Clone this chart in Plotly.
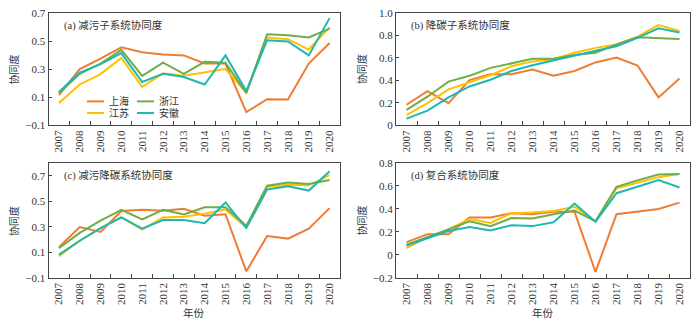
import plotly.graph_objects as go

years = ["2007", "2008", "2009", "2010", "2011", "2012", "2013",
         "2014", "2015", "2016", "2017", "2018", "2019", "2020"]
provinces = ["上海", "江苏", "浙江", "安徽"]
colors = ["#EE7D31", "#FFC000", "#70AD47", "#1FB7B2"]

# (a) 减污子系统协同度
sh_a = [0.113, 0.300, 0.375, 0.456, 0.420, 0.405, 0.398, 0.340, 0.340, -0.008, 0.085, 0.082, 0.340, 0.487]
js_a = [0.057, 0.190, 0.264, 0.380, 0.173, 0.270, 0.252, 0.278, 0.300, 0.130, 0.526, 0.514, 0.440, 0.600]
zj_a = [0.127, 0.266, 0.340, 0.438, 0.252, 0.347, 0.266, 0.352, 0.345, 0.130, 0.550, 0.542, 0.526, 0.590]
ah_a = [0.136, 0.275, 0.335, 0.415, 0.208, 0.266, 0.243, 0.190, 0.398, 0.143, 0.507, 0.498, 0.398, 0.665]

# (b) 降碳子系统协同度
sh_b = [0.181, 0.302, 0.195, 0.402, 0.454, 0.454, 0.497, 0.440, 0.483, 0.560, 0.603, 0.532, 0.247, 0.417]
js_b = [0.089, 0.195, 0.319, 0.382, 0.445, 0.526, 0.569, 0.589, 0.647, 0.690, 0.720, 0.790, 0.894, 0.842]
zj_b = [0.135, 0.253, 0.388, 0.440, 0.511, 0.549, 0.592, 0.592, 0.626, 0.647, 0.720, 0.784, 0.776, 0.770]
ah_b = [0.057, 0.129, 0.247, 0.345, 0.405, 0.483, 0.534, 0.578, 0.626, 0.664, 0.704, 0.779, 0.865, 0.828]

# (c) 减污降碳系统协同度
sh_c = [0.139, 0.297, 0.260, 0.423, 0.433, 0.426, 0.441, 0.386, 0.398, -0.050, 0.227, 0.207, 0.285, 0.446]
js_c = [0.069, 0.190, 0.290, 0.373, 0.277, 0.373, 0.378, 0.403, 0.436, 0.295, 0.612, 0.630, 0.625, 0.705]
zj_c = [0.131, 0.252, 0.348, 0.433, 0.358, 0.433, 0.396, 0.453, 0.453, 0.307, 0.622, 0.647, 0.635, 0.667]
ah_c = [0.081, 0.190, 0.290, 0.373, 0.285, 0.353, 0.353, 0.328, 0.491, 0.290, 0.592, 0.617, 0.584, 0.735]

# (d) 复合系统协同度
sh_d = [0.110, 0.180, 0.180, 0.326, 0.326, 0.362, 0.354, 0.376, 0.376, -0.149, 0.354, 0.376, 0.400, 0.455]
js_d = [0.059, 0.152, 0.222, 0.312, 0.278, 0.362, 0.368, 0.382, 0.419, 0.292, 0.581, 0.629, 0.677, 0.705]
zj_d = [0.087, 0.152, 0.222, 0.292, 0.250, 0.320, 0.317, 0.354, 0.385, 0.292, 0.593, 0.649, 0.700, 0.705]
ah_d = [0.081, 0.146, 0.208, 0.242, 0.213, 0.258, 0.250, 0.284, 0.447, 0.287, 0.537, 0.593, 0.652, 0.587]

panel_titles = ["(a) 减污子系统协同度", "(b) 降碳子系统协同度",
                "(c) 减污降碳系统协同度", "(d) 复合系统协同度"]
y_ticks = [
    ([-0.1, 0.1, 0.3, 0.5, 0.7], ["−0.1", "0.1", "0.3", "0.5", "0.7"], [-0.1, 0.7]),
    ([0, 0.2, 0.4, 0.6, 0.8, 1.0], ["0", "0.2", "0.4", "0.6", "0.8", "1.0"], [0, 1.0]),
    ([-0.1, 0.1, 0.3, 0.5, 0.7], ["−0.1", "0.1", "0.3", "0.5", "0.7"], [-0.1, 0.8]),
    ([-0.2, 0, 0.2, 0.4, 0.6, 0.8], ["−0.2", "0", "0.2", "0.4", "0.6", "0.8"], [-0.2, 0.8]),
]
panels = [[sh_a, js_a, zj_a, ah_a], [sh_b, js_b, zj_b, ah_b],
          [sh_c, js_c, zj_c, ah_c], [sh_d, js_d, zj_d, ah_d]]

W, H = 700, 329
def px(x):
    return x / W
def py(y):
    return 1 - y / H

# pixel boxes of the four plot areas: (left, right, top, bottom)
boxes = [(48.5, 340, 7.5, 123.5), (396, 690, 7.5, 123.5),
         (48.5, 340, 163, 282), (396, 690, 163, 282)]

SERIF = "Liberation Serif"
CJK = "Liberation Serif, Noto Sans CJK SC, serif"
TXT = "#333"

fig = go.Figure()
layout = dict(width=W, height=H, margin=dict(l=0, r=0, t=0, b=0),
              paper_bgcolor="white", plot_bgcolor="white", showlegend=False,
              font=dict(family=SERIF, size=11, color=TXT))
annotations = []
shapes = []

for i, series in enumerate(panels):
    n = "" if i == 0 else str(i + 1)
    xa, ya = "x" + n, "y" + n
    for name, vals, col in zip(provinces, series, colors):
        fig.add_trace(go.Scatter(x=years, y=vals, mode="lines", name=name,
                                 line=dict(color=col, width=2),
                                 xaxis=xa, yaxis=ya, showlegend=False))
    l, r, t, b = boxes[i]
    tv, tt, rng = y_ticks[i]
    layout["xaxis" + n] = dict(domain=[px(l), px(r)], anchor=ya, type="category",
                               range=[-0.5, 13.5], tickson="boundaries",
                               ticks="inside", ticklen=4, tickcolor="#444",
                               tickangle=-90, showline=True, linecolor="#444",
                               linewidth=1, mirror=True, showgrid=False,
                               zeroline=False,
                               tickfont=dict(family=SERIF, size=11, color=TXT))
    layout["yaxis" + n] = dict(domain=[py(b), py(t)], anchor=xa, range=rng,
                               tickvals=tv, ticktext=tt, ticks="inside",
                               ticklen=3, tickcolor="#444", showline=True,
                               linecolor="#444", linewidth=1, mirror=True,
                               showgrid=False, zeroline=False,
                               tickfont=dict(family=SERIF, size=11, color=TXT))
    # panel title
    annotations.append(dict(text=panel_titles[i], x=px(l + 13), y=py(t + 12.5),
                            xref="paper", yref="paper", xanchor="left",
                            yanchor="middle", showarrow=False,
                            font=dict(family=CJK, size=10.5, color=TXT)))
    # y axis title
    annotations.append(dict(text="协同度", x=px(l - 34), y=py((t + b) / 2),
                            xref="paper", yref="paper", textangle=-90,
                            xanchor="center", yanchor="middle", showarrow=False,
                            font=dict(family=CJK, size=10, color=TXT)))
    if i >= 2:
        annotations.append(dict(text="年份", x=px((l + r) / 2), y=py(319),
                                xref="paper", yref="paper", xanchor="center",
                                yanchor="middle", showarrow=False,
                                font=dict(family=CJK, size=10.5, color=TXT)))

# legend in panel (a): two columns (上海, 浙江 / 江苏, 安徽)
legend_pos = {"上海": (87, 99), "浙江": (137, 99), "江苏": (87, 111), "安徽": (137, 111)}
for name, col in zip(provinces, colors):
    lx, ly = legend_pos[name]
    shapes.append(dict(type="line", xref="paper", yref="paper",
                       x0=px(lx), x1=px(lx + 17), y0=py(ly), y1=py(ly),
                       line=dict(color=col, width=2)))
    annotations.append(dict(text=name, x=px(lx + 20), y=py(ly), xref="paper",
                            yref="paper", xanchor="left", yanchor="middle",
                            showarrow=False,
                            font=dict(family=CJK, size=10, color=TXT)))

layout["annotations"] = annotations
layout["shapes"] = shapes
fig.update_layout(**layout)
fig.write_html("out.html")
